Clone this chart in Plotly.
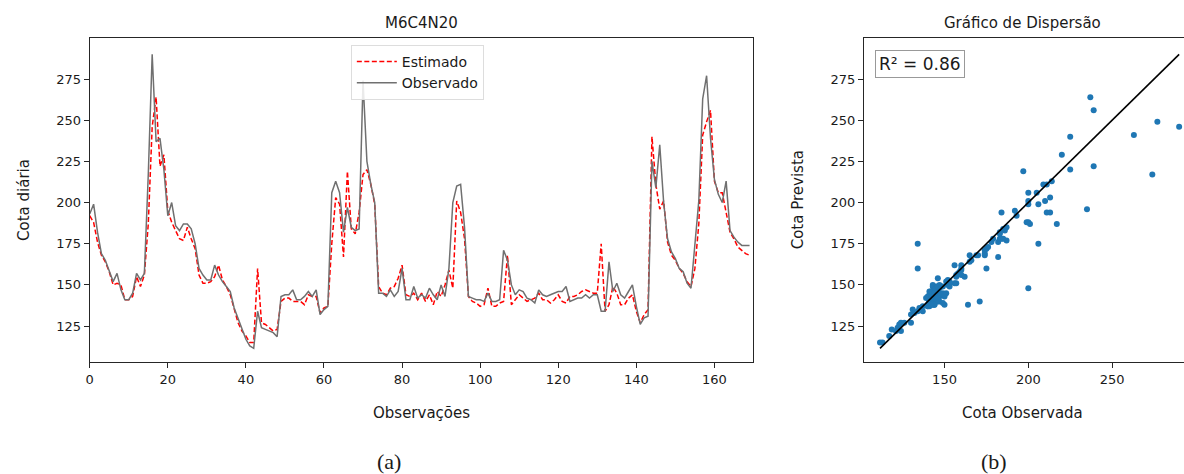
import plotly.graph_objects as go

# ---------------- data ----------------
observado = [
    193, 199, 182, 169, 165, 159, 152, 157, 147, 141,
    141, 145, 157, 153, 157, 217, 290, 237, 239, 220,
    192, 200, 186, 183, 187, 187, 184, 175, 160, 156,
    153, 153, 162, 156, 152, 149, 146, 136, 130, 124,
    117, 113, 111.5, 134, 124, 123, 122, 121, 118.5, 143,
    144, 144, 147, 141, 141, 143, 146, 143, 147, 132,
    135, 137, 206, 213, 206, 182, 197, 185, 183, 184,
    274, 225, 211, 200, 145, 145, 143, 147, 143, 146,
    160, 141, 141, 149, 142, 144, 142, 148, 144, 141,
    150, 143, 160, 200, 210, 211, 185, 143, 142, 141,
    141, 140, 145, 140, 140, 141, 171, 165, 150, 144,
    147, 146, 142, 141, 139, 147, 144, 143, 144, 145,
    146, 146, 149, 140, 141, 142, 142, 144, 142, 144,
    144, 134, 134, 164, 146, 151, 144, 142, 146, 150,
    137, 126, 130, 131, 225, 209, 235, 200, 178, 170,
    166, 160, 158, 151, 148, 175, 201, 263, 277, 239,
    214, 205, 200, 213, 183, 179, 176, 174, 174, 174,
]

estimado = [
    192, 188, 176, 168, 164, 158, 150, 151, 150, 141,
    141, 143, 155, 149, 156, 187, 246, 264, 222, 229,
    195, 188, 183, 178, 177, 185, 178, 172, 156, 151,
    151, 152, 155, 162, 153, 149, 144, 135, 127, 122,
    119, 115, 115, 160, 127, 126, 124, 122, 123, 140,
    142, 142, 140, 140, 140, 138, 144, 143, 143, 133,
    136, 137, 175, 203, 199, 167, 219, 184, 181, 194,
    217, 220, 211, 199, 149, 145, 144, 148, 149, 154,
    162, 144, 143, 145, 141, 145, 140, 144, 138, 146,
    143, 150, 159, 148, 201, 194, 178, 143, 140, 139,
    137, 138, 148, 137, 137, 139, 140, 168, 138, 141,
    144, 142, 140, 141, 142, 145, 141, 141, 139, 141,
    144, 140, 139, 143, 143, 144, 146, 147, 146, 145,
    145, 175, 134, 138, 149, 145, 138, 138, 142, 144,
    134, 127, 132, 135, 240, 211, 196, 201, 176, 168,
    165, 160, 157, 152, 149, 160, 187, 241, 249, 256,
    213, 206, 206, 194, 182, 178, 173, 171, 169, 168,
]

observacoes = list(range(len(observado)))
r2_text = "R² = 0.86"
x_ticks_a = [0, 20, 40, 60, 80, 100, 120, 140, 160]
y_ticks = [125, 150, 175, 200, 225, 250, 275]
x_ticks_b = [150, 200, 250]

# ---------------- layout helpers ----------------
W, H = 1184, 474
def px(x):
    return x / W
def py(y):
    return 1 - y / H

FONT = "DejaVu Sans"
AX_COLOR = "#262626"

fig = go.Figure()

fig.add_trace(go.Scatter(
    x=observacoes, y=estimado, mode="lines", name="Estimado",
    line=dict(color="red", width=1.5, dash="5px,2.5px"),
    xaxis="x", yaxis="y",
))
fig.add_trace(go.Scatter(
    x=observacoes, y=observado, mode="lines", name="Observado",
    line=dict(color="#707070", width=1.5),
    xaxis="x", yaxis="y",
))

fig.add_trace(go.Scatter(
    x=observado, y=estimado, mode="markers", showlegend=False,
    marker=dict(color="#1f77b4", size=6, line=dict(width=0)),
    xaxis="x2", yaxis="y2",
))
lo, hi = min(observado), max(observado)
fig.add_trace(go.Scatter(
    x=[lo, hi], y=[lo, hi], mode="lines", showlegend=False,
    line=dict(color="black", width=1.6),
    xaxis="x2", yaxis="y2",
))

axis_common = dict(
    showgrid=False, zeroline=False, showline=True, linecolor=AX_COLOR,
    linewidth=1.3, ticks="outside", ticklen=5, tickwidth=1.1, tickcolor=AX_COLOR,
    tickfont=dict(family=FONT, size=13, color="#1a1a1a"),
)

fig.update_layout(
    width=W, height=H,
    margin=dict(l=0, r=0, t=0, b=0),
    paper_bgcolor="white", plot_bgcolor="white",
    font=dict(family=FONT, color="#1a1a1a"),
    xaxis=dict(domain=[px(86), px(752)], range=[0, 170],
               tickvals=x_ticks_a, mirror=True, anchor="y", **axis_common),
    yaxis=dict(domain=[py(362), py(38)], range=[103.2, 299.9],
               tickvals=y_ticks, mirror=True, anchor="x", **axis_common),
    xaxis2=dict(domain=[px(863), 1.0], range=[102, 292.9],
                tickvals=x_ticks_b, mirror=True, anchor="y2", **axis_common),
    yaxis2=dict(domain=[py(362), py(38)], range=[103.2, 299.9],
                tickvals=y_ticks, mirror=False, anchor="x2", **axis_common),
    legend=dict(
        x=px(348), y=py(45), xanchor="left", yanchor="top",
        bgcolor="rgba(255,255,255,0.85)", bordercolor="#dddddd", borderwidth=1,
        font=dict(family=FONT, size=14, color="#1a1a1a"),
        tracegroupgap=2, itemwidth=40,
    ),
    showlegend=True,
)

annotations = [
    dict(text="M6C4N20", x=px(419.4), y=py(23), font=dict(size=15)),
    dict(text="Gráfico de Dispersão", x=px(1022), y=py(23), font=dict(size=15)),
    dict(text="Observações", x=px(419.4), y=py(413), font=dict(size=15)),
    dict(text="Cota Observada", x=px(1022), y=py(413), font=dict(size=15)),
    dict(text="Cota diária", x=px(20), y=py(200), textangle=-90, font=dict(size=15)),
    dict(text="Cota Prevista", x=px(797), y=py(200), textangle=-90, font=dict(size=15)),
    dict(text="(a)", x=px(386), y=py(461),
         font=dict(family="Liberation Serif", size=22)),
    dict(text="(b)", x=px(993), y=py(461),
         font=dict(family="Liberation Serif", size=22)),
]
for a in annotations:
    a.update(xref="paper", yref="paper", showarrow=False,
             xanchor="center", yanchor="middle")
    a.setdefault("font", {})
    a["font"].setdefault("family", FONT)
    a["font"].setdefault("color", "#1a1a1a")
    fig.add_annotation(**a)

fig.add_annotation(
    text=r2_text, xref="paper", yref="paper", x=px(874), y=py(50),
    xanchor="left", yanchor="top", showarrow=False,
    font=dict(family=FONT, size=17, color="#1a1a1a"),
    bgcolor="white", bordercolor="#999999", borderwidth=1, borderpad=3,
)

fig.write_html("out.html")
